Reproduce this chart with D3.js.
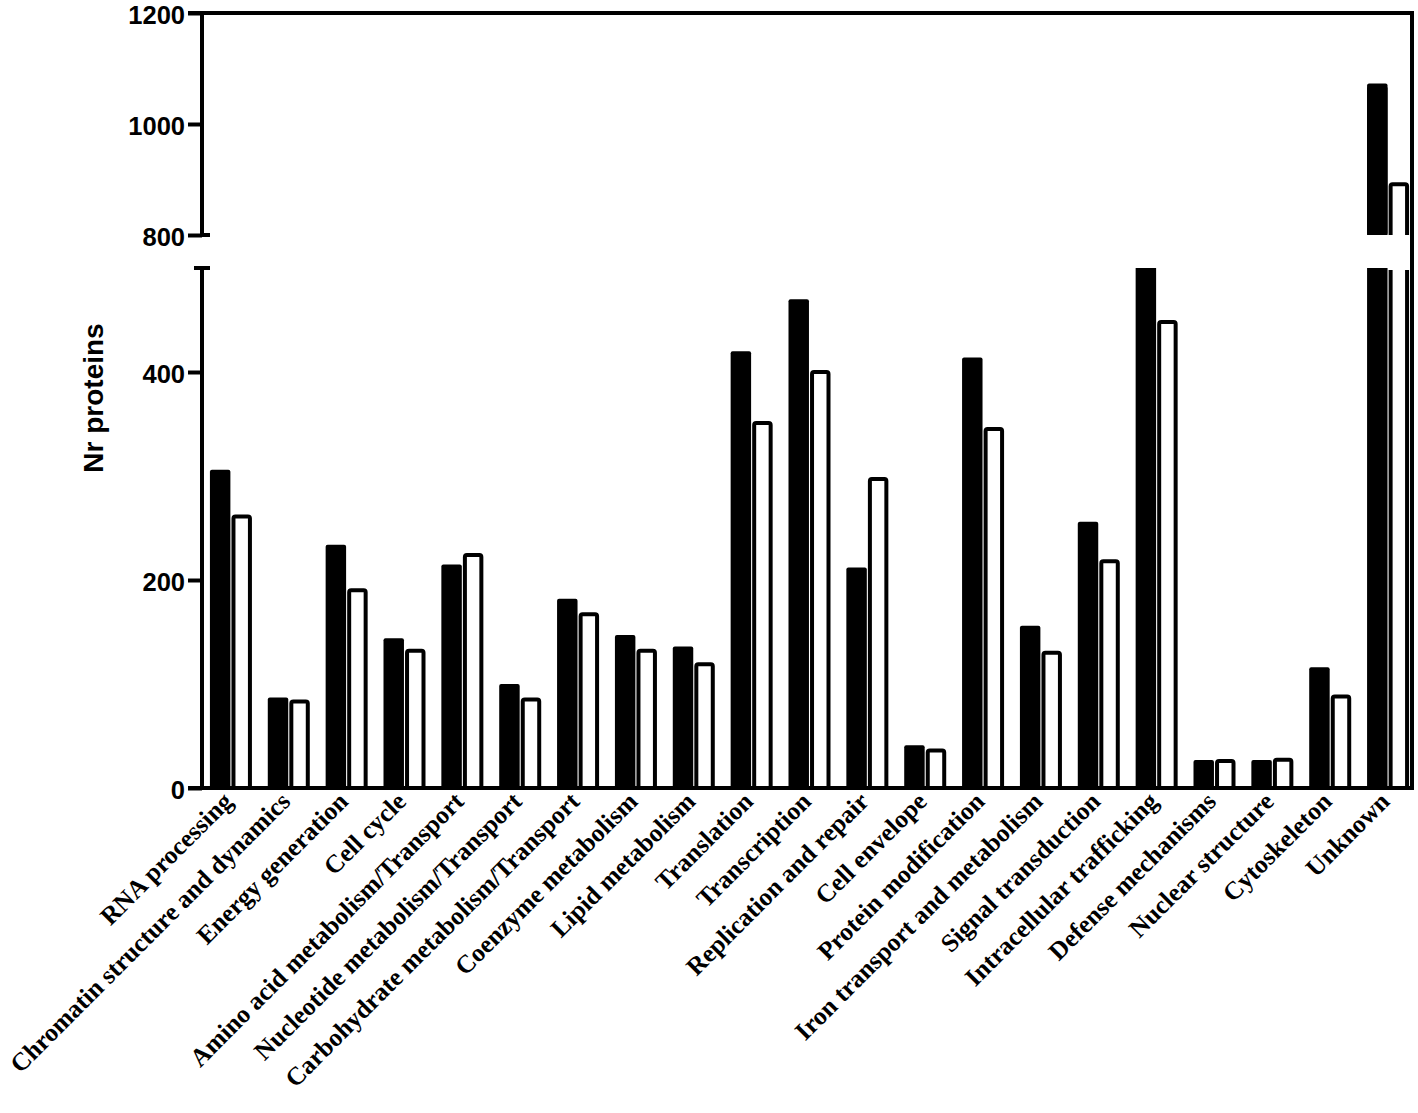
<!DOCTYPE html>
<html>
<head>
<meta charset="utf-8">
<script src="https://cdn.jsdelivr.net/npm/d3@7"></script>
<style>
  body { margin: 0; background: #fff; }
  svg { display: block; }
</style>
</head>
<body>
<div id="chart"></div>
<script>
// categories and values
const categories = [
  'RNA processing', 'Chromatin structure and dynamics', 'Energy generation', 'Cell cycle',
  'Amino acid metabolism/Transport', 'Nucleotide metabolism/Transport',
  'Carbohydrate metabolism/Transport', 'Coenzyme metabolism', 'Lipid metabolism',
  'Translation', 'Transcription', 'Replication and repair', 'Cell envelope',
  'Protein modification', 'Iron transport and metabolism', 'Signal transduction',
  'Intracellular trafficking', 'Defense mechanisms', 'Nuclear structure',
  'Cytoskeleton', 'Unknown'
];
const seriesBlack = [306, 87, 234, 144, 215, 100, 182, 147, 136, 420, 470, 212, 41, 414, 156, 256, 560, 27, 27, 116, 1073];
const seriesWhite = [263, 85, 192, 134, 226, 87, 169, 134, 121, 353, 402, 299, 38, 347, 132, 220, 450, 28, 29, 90, 895];
const lowTicks = [0, 200, 400];
const highTicks = [800, 1000, 1200];

const W = 1418, H = 1113;
const axisX = 202, frameRight = 1412, frameTop = 13, baseY = 788;
const lowTop = 268, highBottom = 235;

const svg = d3.select('#chart').append('svg')
  .attr('width', W)
  .attr('height', H);

// two y segments (broken axis)
const yLow = d3.scaleLinear().domain([0, 500]).range([baseY, lowTop]).clamp(true);
const yHigh = d3.scaleLinear().domain([800, 1200]).range([highBottom, frameTop]);

const x = d3.scaleBand().domain(categories).range([axisX, 1417])
  .paddingInner(0.274).paddingOuter(0.137);
const xs = d3.scaleBand().domain(['black', 'white']).range([0, x.bandwidth()]).paddingInner(0.05);

const data = categories.map((c, i) => ({ cat: c, black: seriesBlack[i], white: seriesWhite[i] }));

// bar outline path, open at a cut end
function barPath(x0, x1, yTop, yBot, openTop) {
  if (openTop) return `M${x0},${yBot}V${yTop}M${x1},${yTop}V${yBot}`;
  return `M${x0},${yBot}V${yTop + 2}Q${x0},${yTop} ${x0 + 2},${yTop}H${x1 - 2}Q${x1},${yTop} ${x1},${yTop + 2}V${yBot}`;
}

const g = svg.append('g');
data.forEach(d => {
  const gx = x(d.cat);
  // black bars
  const bx = gx + xs('black'), bw = xs.bandwidth();
  g.append('rect')
    .attr('x', bx).attr('width', bw)
    .attr('y', yLow(d.black)).attr('height', baseY - yLow(d.black))
    .attr('rx', d.black > 500 ? 0 : 2)
    .attr('fill', '#000');
  if (d.black > 800) {
    g.append('rect')
      .attr('x', bx).attr('width', bw)
      .attr('y', yHigh(d.black)).attr('height', highBottom - yHigh(d.black))
      .attr('rx', 2).attr('fill', '#000');
    g.append('rect')
      .attr('x', bx).attr('width', bw)
      .attr('y', yHigh(d.black) + 4).attr('height', highBottom - yHigh(d.black) - 4)
      .attr('fill', '#000');
  }
  // white bars with black outline
  const wx0 = gx + xs('white') + 2, wx1 = gx + xs('white') + xs.bandwidth() - 2;
  g.append('rect')
    .attr('x', wx0).attr('width', wx1 - wx0)
    .attr('y', yLow(d.white)).attr('height', baseY - yLow(d.white))
    .attr('fill', '#fff');
  g.append('path')
    .attr('d', barPath(wx0, wx1, yLow(d.white) + 2, baseY, d.white > 500))
    .attr('fill', 'none').attr('stroke', '#000').attr('stroke-width', 4);
  if (d.white > 800) {
    g.append('path')
      .attr('d', barPath(wx0, wx1, yHigh(d.white) + 2, highBottom, false))
      .attr('fill', '#fff').attr('stroke', '#000').attr('stroke-width', 4);
  }
});

// frame: top and right
svg.append('path')
  .attr('d', `M188,${frameTop}H${frameRight}V${baseY}`)
  .attr('fill', 'none').attr('stroke', '#000').attr('stroke-width', 4)
  .attr('stroke-linejoin', 'miter');

// x axis line
svg.append('line')
  .attr('x1', 188).attr('x2', frameRight + 2)
  .attr('y1', baseY).attr('y2', baseY)
  .attr('stroke', '#000').attr('stroke-width', 4);

const tickFont = '"Liberation Sans", Arial, sans-serif';

// lower y axis
const axLow = svg.append('g').attr('transform', `translate(${axisX},0)`)
  .call(d3.axisLeft(yLow).tickValues(lowTicks).tickFormat(d3.format('d')).tickSize(14).tickPadding(3));
// upper y axis
const axHigh = svg.append('g').attr('transform', `translate(${axisX},0)`)
  .call(d3.axisLeft(yHigh).tickValues(highTicks).tickFormat(d3.format('d')).tickSize(14).tickPadding(3));

[axLow, axHigh].forEach(ax => {
  ax.select('.domain').remove();
  ax.selectAll('.tick line').attr('stroke', '#000').attr('stroke-width', 4);
  ax.selectAll('.tick text')
    .attr('fill', '#000')
    .attr('dy', '0.4em')
    .style('font-family', tickFont)
    .style('font-weight', 'bold')
    .style('font-size', '25.5px');
});

// axis segments with caps at the break
svg.append('line').attr('x1', axisX).attr('x2', axisX)
  .attr('y1', frameTop - 2).attr('y2', highBottom)
  .attr('stroke', '#000').attr('stroke-width', 4);
svg.append('line').attr('x1', axisX).attr('x2', axisX + 8)
  .attr('y1', highBottom).attr('y2', highBottom)
  .attr('stroke', '#000').attr('stroke-width', 4);
svg.append('line').attr('x1', axisX).attr('x2', axisX)
  .attr('y1', lowTop).attr('y2', baseY)
  .attr('stroke', '#000').attr('stroke-width', 4);
svg.append('line').attr('x1', axisX - 8).attr('x2', axisX + 8)
  .attr('y1', lowTop).attr('y2', lowTop)
  .attr('stroke', '#000').attr('stroke-width', 4);

// y title
svg.append('text')
  .attr('transform', 'translate(103,398) rotate(-90)')
  .attr('text-anchor', 'middle')
  .style('font-family', tickFont)
  .style('font-weight', 'bold')
  .style('font-size', '28px')
  .text('Nr proteins');

// x category labels, rotated
svg.append('g').selectAll('text')
  .data(categories)
  .join('text')
  .attr('transform', c => `translate(${x(c) + x.bandwidth() / 2 + 3},803) rotate(-45)`)
  .attr('text-anchor', 'end')
  .style('font-family', '"Liberation Serif", "Times New Roman", serif')
  .style('font-weight', 'bold')
  .style('font-size', '25.5px')
  .text(c => c);
</script>
</body>
</html>
